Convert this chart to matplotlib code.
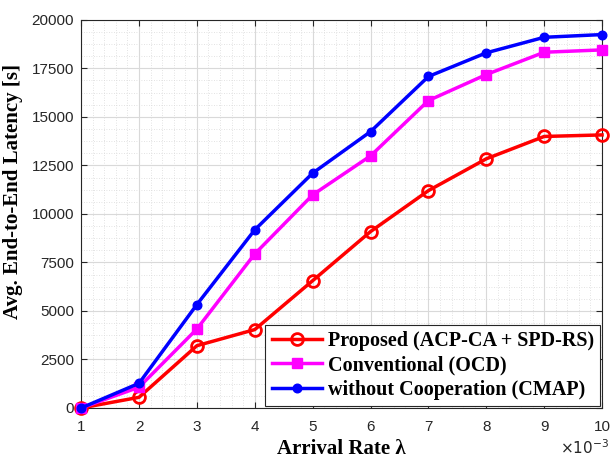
import matplotlib
matplotlib.use("Agg")
import matplotlib.pyplot as plt
from matplotlib.ticker import AutoMinorLocator

x = [1, 2, 3, 4, 5, 6, 7, 8, 9, 10]
proposed = [0, 550, 3210, 4040, 6560, 9090, 11200, 12840, 13990, 14070]
conventional = [0, 1070, 4070, 7940, 10980, 12990, 15840, 17180, 18330, 18450]
without_coop = [0, 1270, 5330, 9180, 12100, 14240, 17080, 18300, 19100, 19240]
labels = ["Proposed (ACP-CA + SPD-RS)", "Conventional (OCD)", "without Cooperation (CMAP)"]
yticks = [0, 2500, 5000, 7500, 10000, 12500, 15000, 17500, 20000]

fig = plt.figure(figsize=(6.1, 4.61), dpi=100)
ax = fig.add_axes([0.133, 0.115, 0.854, 0.842])

ax.plot(x, proposed, color=(1, 0, 0), lw=2.5, marker='o', ms=8.5, mfc='none', mew=2.0, label=labels[0], clip_on=False, zorder=3)
ax.plot(x, conventional, color=(1, 0, 1), lw=2.5, marker='s', ms=6.5, label=labels[1], clip_on=False, zorder=4)
ax.plot(x, without_coop, color=(0, 0, 1), lw=2.5, marker='o', ms=6.2, label=labels[2], clip_on=False, zorder=5)

ax.set_xlim(1, 10)
ax.set_ylim(0, 20000)
ax.set_xticks(x)
ax.set_yticks(yticks)
ax.xaxis.set_minor_locator(AutoMinorLocator(5))
ax.yaxis.set_minor_locator(AutoMinorLocator(4))
ax.grid(True, which='major', color=(0.85, 0.85, 0.85), lw=0.8)
ax.grid(True, which='minor', color=(0.85, 0.85, 0.85), lw=0.6, ls=(0, (1, 2)))
ax.set_axisbelow(True)
ax.tick_params(which='both', direction='in', top=True, right=True, color=(0.15, 0.15, 0.15))
ax.tick_params(which='minor', length=0)
ax.tick_params(which='major', length=4, labelsize=11, labelcolor=(0.15, 0.15, 0.15))
ax.tick_params(axis='x', which='major', pad=9)
ax.tick_params(axis='y', which='major', pad=5)
for lab in ax.get_xticklabels() + ax.get_yticklabels():
    lab.set_family('Liberation Sans')
for s in ax.spines.values():
    s.set_color((0.15, 0.15, 0.15))
    s.set_linewidth(0.8)

ax.set_xlabel("Arrival Rate λ", family='Liberation Serif', weight='bold', fontsize=15, labelpad=3)
ax.set_ylabel("Avg. End-to-End Latency [s]", family='Liberation Serif', weight='bold', fontsize=15)
ax.yaxis.set_label_coords(-0.112, 0.557)
fig.text(0.918, 0.008, r"$\times10^{-3}$", fontsize=11, color=(0.15, 0.15, 0.15), ha='left', va='bottom', family='Liberation Sans')

leg = ax.legend(loc='lower right', prop={'family': 'Liberation Serif', 'weight': 'bold', 'size': 14.5},
                frameon=True, fancybox=False, edgecolor=(0.15, 0.15, 0.15), framealpha=1,
                handlelength=2.5, borderpad=0.3, labelspacing=0.22, handletextpad=0.3, borderaxespad=0.1)
leg.get_frame().set_linewidth(0.8)

fig.savefig("out.png", dpi=100)
